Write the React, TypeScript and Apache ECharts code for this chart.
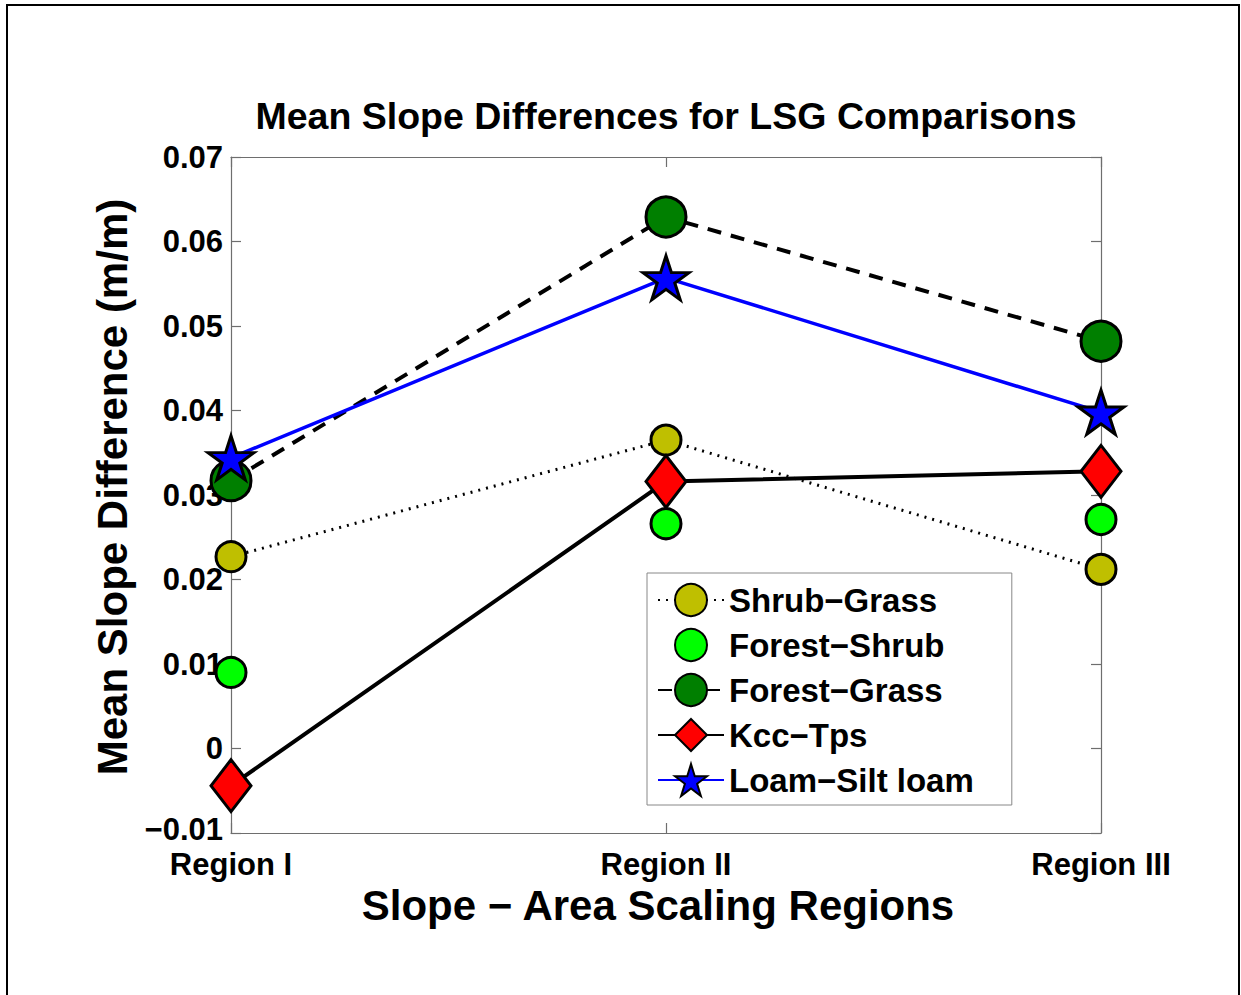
import React, { useEffect, useRef } from "react";
import * as echarts from "echarts";

const categories = ["Region I", "Region II", "Region III"];
const shrubGrass = [0.0227, 0.0365, 0.0212];
const forestShrub = [0.009, 0.0266, 0.0271];
const forestGrass = [0.0317, 0.0629, 0.0482];
const kccTps = [-0.0044, 0.0316, 0.0328];
const loamSiltLoam = [0.0344, 0.0557, 0.0398];
const yMin = -0.01;
const yMax = 0.07;
const yStep = 0.01;

const FONT = "'Liberation Sans', Arial, Helvetica, sans-serif";
const STAR =
  "path://M50 0 L61.23 34.55 L97.55 34.55 L68.17 55.9 L79.39 90.45 L50 69.1 L20.61 90.45 L31.83 55.9 L2.45 34.55 L38.77 34.55 Z";

function fmt(v: number): string {
  const r = Math.round(v * 100) / 100;
  if (r === 0) return "{t|0}";
  if (r < 0) return "{neg|\u2212" + Math.abs(r).toFixed(2) + "}";
  return "{t|" + r.toFixed(2) + "}";
}

export default function App() {
  const ref = useRef<HTMLDivElement>(null);
  useEffect(() => {
    if (!ref.current) return;
    const chart = echarts.init(ref.current, null, { renderer: "svg" });
    const axisColor = "#6e6e6e";
    const tickFont = { fontFamily: FONT, fontSize: 31, fontWeight: "bold", color: "#000" };
    const yAxisBase = {
      type: "value",
      min: yMin,
      max: yMax,
      interval: yStep,
      splitLine: { show: false },
      axisLine: { show: true, onZero: false, lineStyle: { color: axisColor, width: 1.2 } },
      axisTick: { show: true, inside: true, length: 10, lineStyle: { color: axisColor, width: 1.2 } },
    };
    const xAxisBase = {
      type: "category",
      data: categories,
      boundaryGap: false,
      splitLine: { show: false },
      axisLine: { show: true, onZero: false, lineStyle: { color: axisColor, width: 1.2 } },
      axisTick: { show: true, inside: true, length: 10, alignWithLabel: true, lineStyle: { color: axisColor, width: 1.2 } },
    };
    const markerBorder = { borderColor: "#000", borderWidth: 3 };
    chart.setOption({
      animation: false,
      backgroundColor: "#fff",
      title: {
        text: "Mean Slope Differences for LSG Comparisons",
        left: 666,
        top: 97,
        textAlign: "center",
        padding: 0,
        textStyle: { fontFamily: FONT, fontSize: 37.5, fontWeight: "bold", color: "#000" },
      },
      graphic: [
        {
          type: "rect",
          shape: { x: 7, y: 5, width: 1232, height: 1010 },
          style: { fill: "none", stroke: "#000", lineWidth: 2 },
          silent: true,
        },
      ],
      grid: { left: 231, top: 157, right: 140, bottom: 162, containLabel: false },
      legend: {
        left: 647,
        top: 573,
        orient: "vertical",
        itemWidth: 66,
        itemHeight: 40,
        itemGap: 11,
        padding: [10, 38, 8, 10],
        borderColor: "#888",
        borderWidth: 1,
        backgroundColor: "#fff",
        selectedMode: false,
        textStyle: { fontFamily: FONT, fontSize: 33, fontWeight: "bold", color: "#000" },
        data: ["Shrub\u2212Grass", "Forest\u2212Shrub", "Forest\u2212Grass", "Kcc\u2212Tps", "Loam\u2212Silt loam"],
      },
      xAxis: [
        {
          ...xAxisBase,
          position: "bottom",
          name: "Slope \u2212 Area Scaling Regions",
          nameLocation: "middle",
          nameGap: 42,
          nameTextStyle: { fontFamily: FONT, fontSize: 42, fontWeight: "bold", color: "#000", padding: [0, 16, 0, 0] },
          axisLabel: { ...tickFont, margin: 17, lineHeight: 28 },
        },
        {
          ...xAxisBase,
          position: "top",
          axisLabel: { show: false },
        },
      ],
      yAxis: [
        {
          ...yAxisBase,
          position: "left",
          name: "Mean Slope Difference (m/m)",
          nameLocation: "middle",
          nameGap: 95,
          nameTextStyle: { fontFamily: FONT, fontSize: 42, fontWeight: "bold", color: "#000", padding: [0, 0, 0, 16] },
          axisLabel: {
            ...tickFont,
            margin: 8,
            formatter: fmt,
            rich: {
              t: { ...tickFont, lineHeight: 26 },
              neg: { ...tickFont, lineHeight: 26, padding: [0, 0, 8, 0] },
            },
          },
        },
        {
          ...yAxisBase,
          position: "right",
          axisLabel: { show: false },
        },
      ],
      series: [
        {
          name: "Shrub\u2212Grass",
          type: "line",
          data: shrubGrass,
          clip: false,
          symbol: "circle",
          symbolSize: 30,
          lineStyle: { color: "#000", width: 3, type: [2, 6] },
          itemStyle: { color: "#BFBF00", ...markerBorder },
        },
        {
          name: "Forest\u2212Shrub",
          type: "line",
          data: forestShrub,
          clip: false,
          symbol: "circle",
          symbolSize: 30,
          lineStyle: { color: "#000", width: 0, opacity: 0 },
          itemStyle: { color: "#00FF00", ...markerBorder },
        },
        {
          name: "Forest\u2212Grass",
          type: "line",
          data: forestGrass,
          clip: false,
          symbol: "circle",
          symbolSize: 40,
          lineStyle: { color: "#000", width: 4, type: [14, 10] },
          itemStyle: { color: "#007F00", ...markerBorder },
        },
        {
          name: "Kcc\u2212Tps",
          type: "line",
          data: kccTps,
          clip: false,
          symbol: "diamond",
          symbolSize: [40, 52],
          lineStyle: { color: "#000", width: 4 },
          itemStyle: { color: "#FF0000", ...markerBorder },
        },
        {
          name: "Loam\u2212Silt loam",
          type: "line",
          data: loamSiltLoam,
          clip: false,
          symbol: STAR,
          symbolSize: [46, 44],
          lineStyle: { color: "#0000FF", width: 3.5 },
          itemStyle: { color: "#0000FF", ...markerBorder },
        },
      ],
    });
    return () => chart.dispose();
  }, []);
  return <div ref={ref} style={{ position: "fixed", left: 0, top: 0, width: 1241, height: 995 }} />;
}
